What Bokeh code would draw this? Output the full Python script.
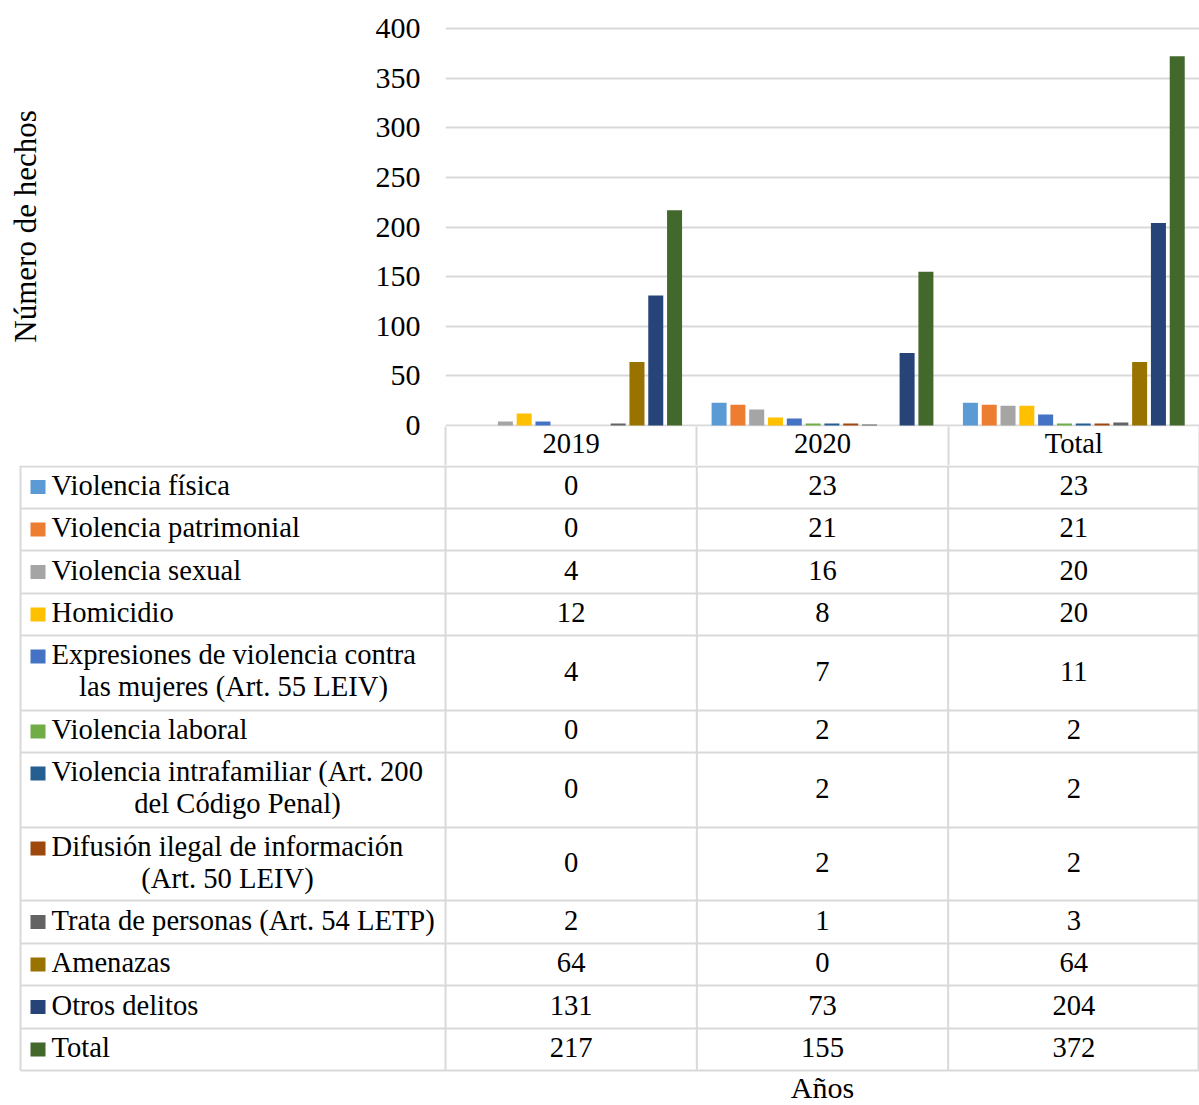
from bokeh.plotting import figure
from bokeh.models import ColumnDataSource, Range1d, FixedTicker
from bokeh.transform import dodge
from bokeh.embed import file_html
from bokeh.resources import INLINE
from bokeh.core.properties import value

# ---------------- data ----------------
years = ["2019", "2020", "Total"]
series_names = [
    "Violencia física",
    "Violencia patrimonial",
    "Violencia sexual",
    "Homicidio",
    "Expresiones de violencia contra\nlas mujeres (Art. 55 LEIV)",
    "Violencia laboral",
    "Violencia intrafamiliar (Art. 200\ndel Código Penal)",
    "Difusión ilegal de información\n(Art. 50 LEIV)",
    "Trata de personas (Art. 54 LETP)",
    "Amenazas",
    "Otros delitos",
    "Total",
]
violencia_fisica = [0, 23, 23]
violencia_patrimonial = [0, 21, 21]
violencia_sexual = [4, 16, 20]
homicidio = [12, 8, 20]
expresiones = [4, 7, 11]
violencia_laboral = [0, 2, 2]
violencia_intrafamiliar = [0, 2, 2]
difusion_ilegal = [0, 2, 2]
trata_personas = [2, 1, 3]
amenazas = [64, 0, 64]
otros_delitos = [131, 73, 204]
total = [217, 155, 372]
series_values = [violencia_fisica, violencia_patrimonial, violencia_sexual, homicidio,
                 expresiones, violencia_laboral, violencia_intrafamiliar, difusion_ilegal,
                 trata_personas, amenazas, otros_delitos, total]
y_ticks = [0, 50, 100, 150, 200, 250, 300, 350, 400]
y_title = "Número de hechos"
x_title = "Años"

# ---------------- style ----------------
colors = ["#5B9BD5", "#ED7D31", "#A5A5A5", "#FFC000", "#4472C4", "#70AD47",
          "#255E91", "#9E480E", "#636363", "#997300", "#264478", "#43682B"]
FONT = "Liberation Serif"
FS_TAB = "28.6px"
FS_TICK = "30px"
FS_TITLE = "31px"
GRID = "#d9d9d9"

W = 1199
LEFT = 445          # left edge of plot area
TOP = 26            # top of plot area
ZERO = 425          # pixel row of value 0
BOT = 426           # bottom of plot area
HDR = 465           # bottom of header row / top of table figure
u = 400.0 / 397.0   # value units per pixel

# ---------------- chart (header row of the table is its x axis) ----------------
n = len(years)
centers = [k + 0.5 for k in range(n)]   # category slots on a 0..n axis
src = ColumnDataSource(data=dict(xc=centers, **{f"s{i}": v for i, v in enumerate(series_values)}))

p = figure(x_range=Range1d(0, n), y_range=Range1d(-(BOT - ZERO) * u, (ZERO - TOP) * u),
           width=W, height=HDR,
           min_border_left=LEFT, min_border_right=0, min_border_top=TOP, min_border_bottom=HDR - BOT,
           output_backend="svg", toolbar_location=None)
pitch = 0.0748
for i in range(len(series_values)):
    p.vbar(x=dodge("xc", (i - 5.5) * pitch), top=f"s{i}", width=0.0597,
           source=src, fill_color=colors[i], line_color=None)

p.xgrid.grid_line_color = None
p.ygrid.grid_line_color = GRID
p.ygrid.grid_line_width = 2
p.outline_line_color = None

p.yaxis.ticker = FixedTicker(ticks=y_ticks)
p.yaxis.axis_line_color = None
p.yaxis.major_tick_line_color = None
p.yaxis.minor_tick_line_color = None
p.yaxis.major_tick_out = 0
p.yaxis.major_label_standoff = 25
p.yaxis.major_label_text_font = FONT
p.yaxis.major_label_text_font_size = FS_TICK
p.yaxis.major_label_text_color = "black"
p.yaxis.axis_label = y_title
p.yaxis.axis_label_text_font = FONT
p.yaxis.axis_label_text_font_size = FS_TITLE
p.yaxis.axis_label_text_font_style = "normal"
p.yaxis.axis_label_text_color = "black"
p.yaxis.axis_label_standoff = 330

# header row: category labels with column separators (minor ticks)
p.xaxis.ticker = FixedTicker(ticks=centers, minor_ticks=list(range(n + 1)))
p.xaxis.major_label_overrides = {c: y for c, y in zip(centers, years)}
p.xaxis.axis_line_color = None
p.xaxis.major_tick_line_color = None
p.xaxis.major_tick_in = 0
p.xaxis.major_tick_out = 0
p.xaxis.minor_tick_in = 0
p.xaxis.minor_tick_out = HDR - BOT
p.xaxis.minor_tick_line_color = GRID
p.xaxis.minor_tick_line_width = 2
p.xaxis.major_label_standoff = 1 - (HDR - BOT)
p.xaxis.major_label_text_font = FONT
p.xaxis.major_label_text_font_size = FS_TAB
p.xaxis.major_label_text_color = "black"

# ---------------- data table ----------------
TAB_H = 1105 - HDR
t = figure(width=W, height=TAB_H, x_range=Range1d(0, W), y_range=Range1d(TAB_H, 0),
           min_border=0, x_axis_type=None, y_axis_type=None,
           output_backend="svg", toolbar_location=None)
t.outline_line_color = None

rows_top = [465, 508, 550, 593, 635, 710, 752, 827, 900, 943, 985, 1028]
rows_bot = [508, 550, 593, 635, 710, 752, 827, 900, 943, 985, 1028, 1070]
row_lines = [r - HDR for r in rows_top + rows_bot[-1:]]
row_lines[0] = 1
col_w = (W - LEFT) / 3.0
col_edges = [LEFT + col_w * k for k in range(4)]
col_edges[-1] = W - 1
tab_left = 20

t.segment(x0=[tab_left] * len(row_lines), y0=row_lines, x1=[W] * len(row_lines), y1=row_lines,
          line_color=GRID, line_width=2)
vx = [tab_left] + col_edges
t.segment(x0=vx, y0=[0] * len(vx), x1=vx, y1=[row_lines[-1]] * len(vx),
          line_color=GRID, line_width=2)

col_centers = [LEFT + col_w * (k + 0.5) for k in range(3)]
second_line_centers = {4: 233, 6: 237, 7: 227}
vx_, vy_, vt_ = [], [], []
l1x, l1y, l1t = [], [], []
l2x, l2y, l2t = [], [], []
sq_y = []
for i, name in enumerate(series_names):
    top, bot = rows_top[i] - HDR, rows_bot[i] - HDR
    mid = (top + bot) / 2 - 2
    parts = name.split("\n")
    if len(parts) == 1:
        ly = mid
    else:
        ly = top + 19
        l2x.append(second_line_centers[i]); l2y.append(top + 51); l2t.append(parts[1])
    l1x.append(51); l1y.append(ly); l1t.append(parts[0])
    sq_y.append(ly + 2)
    for k in range(3):
        vx_.append(col_centers[k]); vy_.append(mid); vt_.append(str(series_values[i][k]))

t.rect(x=[37.5] * len(sq_y), y=sq_y, width=15, height=14, fill_color=colors, line_color=None)
common = dict(text_font=value(FONT), text_font_size=FS_TAB, text_color="black",
              text_baseline="middle")
t.text(x=l1x, y=l1y, text=l1t, text_align="left", **common)
t.text(x=l2x, y=l2y, text=l2t, text_align="center", **common)
t.text(x=vx_, y=vy_, text=vt_, text_align="center", **common)
t.text(x=[col_centers[1]], y=[1087 - HDR], text=[x_title], text_font=value(FONT),
       text_font_size="30px", text_color="black", text_align="center", text_baseline="middle")

open("out.html", "w").write(file_html([p, t], INLINE))
